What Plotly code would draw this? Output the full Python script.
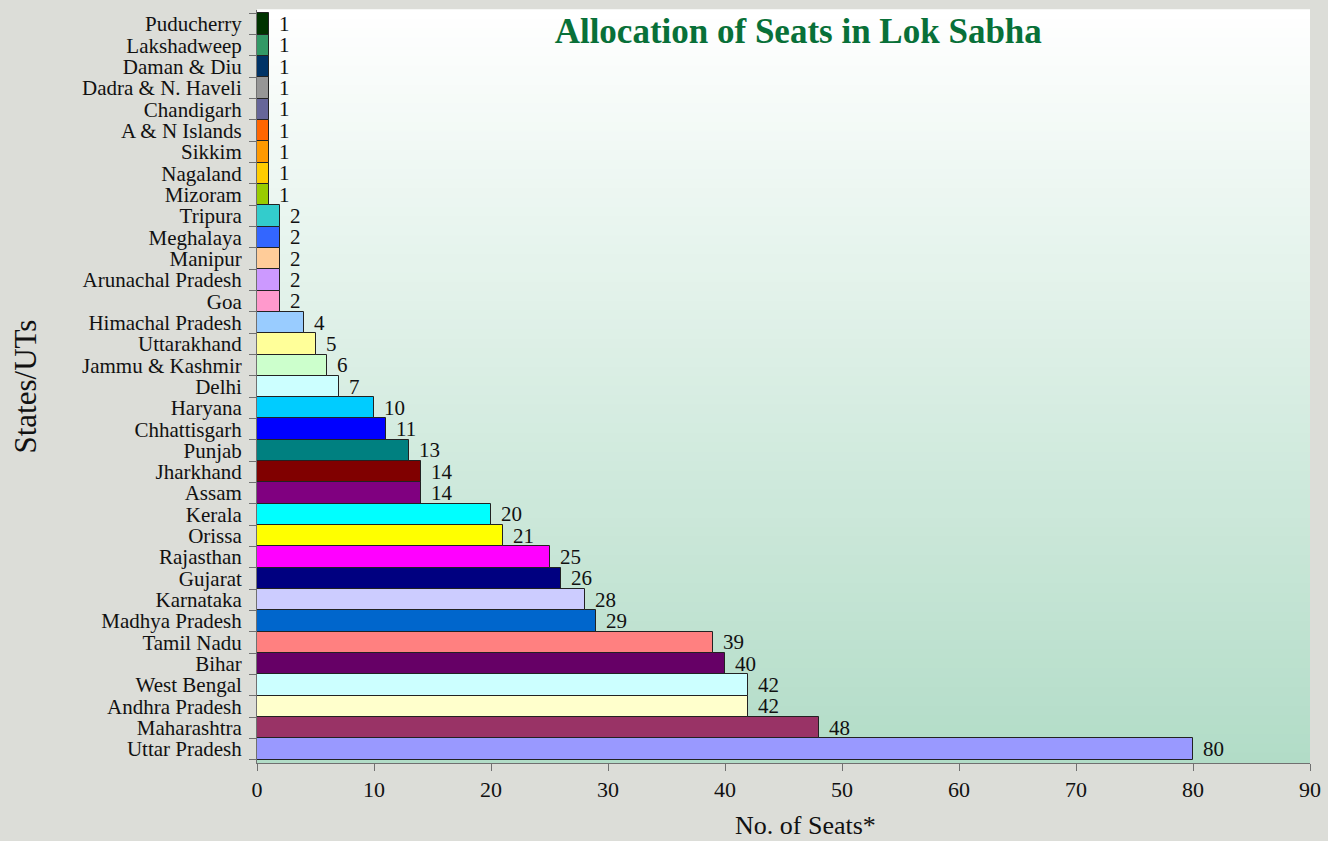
import plotly.graph_objects as go

states = ["Uttar Pradesh", "Maharashtra", "Andhra Pradesh", "West Bengal", "Bihar",
          "Tamil Nadu", "Madhya Pradesh", "Karnataka", "Gujarat", "Rajasthan",
          "Orissa", "Kerala", "Assam", "Jharkhand", "Punjab", "Chhattisgarh",
          "Haryana", "Delhi", "Jammu & Kashmir", "Uttarakhand", "Himachal Pradesh",
          "Goa", "Arunachal Pradesh", "Manipur", "Meghalaya", "Tripura", "Mizoram",
          "Nagaland", "Sikkim", "A & N Islands", "Chandigarh", "Dadra & N. Haveli",
          "Daman & Diu", "Lakshadweep", "Puducherry"]
seats = [80, 48, 42, 42, 40, 39, 29, 28, 26, 25, 21, 20, 14, 14, 13, 11, 10, 7, 6, 5, 4,
         2, 2, 2, 2, 2, 1, 1, 1, 1, 1, 1, 1, 1, 1]
colors = ["#9999ff", "#993366", "#ffffcc", "#ccffff", "#660066", "#ff8080", "#0066cc",
          "#ccccff", "#000080", "#ff00ff", "#ffff00", "#00ffff", "#800080", "#800000",
          "#008080", "#0000ff", "#00ccff", "#ccffff", "#ccffcc", "#ffff99", "#99ccff",
          "#ff99cc", "#cc99ff", "#ffcc99", "#3366ff", "#33cccc", "#99cc00", "#ffcc00",
          "#ff9900", "#ff6600", "#666699", "#969696", "#003366", "#339966", "#003300"]
x_ticks = [0, 10, 20, 30, 40, 50, 60, 70, 80, 90]

FONT = "Liberation Serif, Times New Roman, serif"
BG = "#dcddd8"

fig = go.Figure()
fig.add_trace(go.Bar(
    x=seats, y=states, orientation="h",
    marker=dict(color=colors, line=dict(color="#222222", width=1)),
    hoverinfo="x+y", showlegend=False,
))

annotations = []
for s, v in zip(states, seats):
    annotations.append(dict(x=v, y=s, xref="x", yref="y", text=str(v), showarrow=False,
                            xanchor="left", yanchor="middle", xshift=8,
                            font=dict(family=FONT, size=21, color="#111111")))
annotations.append(dict(text="States/UTs", xref="paper", yref="paper",
                        x=-0.2203, y=0.5, xanchor="center", yanchor="middle",
                        textangle=-90, showarrow=False,
                        font=dict(family=FONT, size=31, color="#111111")))
annotations.append(dict(text="No. of Seats*", xref="paper", yref="paper",
                        x=0.521, y=-0.083, xanchor="center", yanchor="middle",
                        showarrow=False,
                        font=dict(family=FONT, size=26, color="#111111")))

# vertical gradient background (white -> light green)
shapes = []
n = 80
top = (255, 255, 255)
bot = (178, 220, 199)
for i in range(n):
    t = (i + 0.5) / n
    r = round(top[0] + (bot[0] - top[0]) * t)
    g = round(top[1] + (bot[1] - top[1]) * t)
    b = round(top[2] + (bot[2] - top[2]) * t)
    shapes.append(dict(type="rect", xref="paper", yref="paper", x0=0, x1=1,
                       y0=1 - (i + 1) / n, y1=1 - i / n + 0.001,
                       fillcolor=f"rgb({r},{g},{b})", line=dict(width=0), layer="below"))

fig.update_layout(
    width=1328, height=841,
    margin=dict(l=257, r=18, t=10, b=78, autoexpand=False),
    paper_bgcolor=BG,
    plot_bgcolor="rgba(0,0,0,0)",
    bargap=0,
    font=dict(family=FONT, color="#111111"),
    title=dict(text="<b>Allocation of Seats in Lok Sabha</b>", x=0.514, xref="paper",
               xanchor="center", y=1 - 31 / 841, yref="container", yanchor="middle",
               font=dict(family=FONT, size=35, color="#087038")),
    shapes=shapes,
    annotations=annotations,
    xaxis=dict(range=[0, 90], tickvals=x_ticks, ticks="outside", ticklen=7,
               tickcolor="#707070", showline=True, linecolor="#707070", linewidth=1,
               showgrid=False, zeroline=False, automargin=False,
               tickfont=dict(family=FONT, size=22, color="#111111")),
    yaxis=dict(type="category", categoryorder="array", categoryarray=states,
               tickmode="array", tickvals=states, ticktext=states,
               ticks="outside", tickson="boundaries", ticklen=7, tickcolor="#707070",
               ticklabelstandoff=10, automargin=False,
               showline=True, linecolor="#707070", linewidth=1, showgrid=False,
               tickfont=dict(family=FONT, size=21, color="#111111")),
)

fig.write_html("out.html", config={"displayModeBar": False},
               post_script=f"document.body.style.margin='0';document.body.style.background='{BG}';")
